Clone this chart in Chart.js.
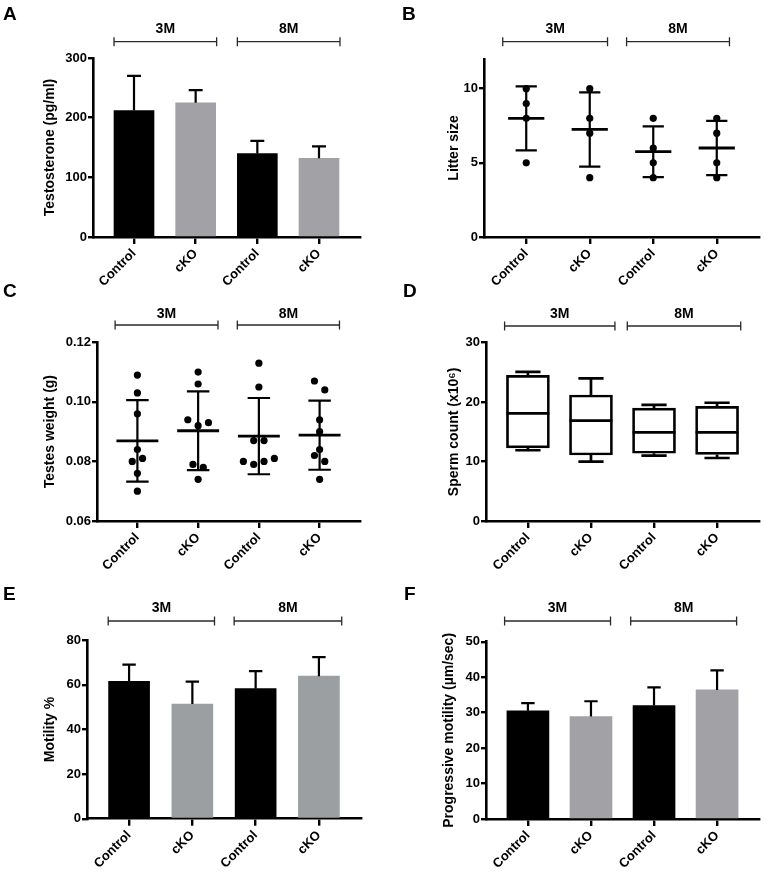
<!DOCTYPE html>
<html>
<head>
<meta charset="utf-8">
<script src="https://cdn.jsdelivr.net/npm/chart.js@4"></script>
<style>
html, body { margin: 0; padding: 0; background: #fff; }
body { width: 764px; height: 874px; position: relative; overflow: hidden; }
canvas { position: absolute; }
</style>
</head>
<body>
<script>
// ---------------- DATA ----------------
const groupLabels = ['Control', 'cKO', 'Control', 'cKO'];
const ageLabels = ['3M', '8M'];

// A: Testosterone (mean, upper error)
const testosteroneMean = [212, 225, 140, 132];
const testosteroneErr = [58, 21, 21, 20];
const testosteroneTicks = [0, 100, 200, 300];

// B: Litter size (individual points, mean, SD)
const litterPoints = [[10, 9, 8, 5], [10, 8, 7, 4], [8, 6, 5, 4], [8, 7, 5, 4]];
const litterMean = [8.0, 7.25, 5.75, 6.0];
const litterSD = [2.16, 2.5, 1.71, 1.83];
const litterTicks = [0, 5, 10];

// C: Testes weight (individual points, mean, SD)
const testesPoints = [
  [0.109, 0.103, 0.096, 0.084, 0.080, 0.081, 0.076, 0.070],
  [0.110, 0.106, 0.094, 0.092, 0.093, 0.079, 0.078, 0.074],
  [0.113, 0.105, 0.087, 0.087, 0.080, 0.079, 0.080, 0.081],
  [0.107, 0.104, 0.094, 0.090, 0.084, 0.082, 0.080, 0.074]
];
const testesJitter = [
  [0, 0, 0, 0, -1, 1, 0, 0],
  [0, 0, -2, 0, 2, -1, 1, 0],
  [0, 0, -1, 1, -3, -1, 1, 3],
  [-1, 1, 0, 0, 0, -1, 1, 0]
];
const testesMean = [0.0869, 0.0903, 0.0885, 0.0888];
const testesSD = [0.0137, 0.0132, 0.0128, 0.0116];
const testesTicks = [0.06, 0.08, 0.10, 0.12];

// D: Sperm count box plot (min, Q1, median, Q3, max)
const spermMin = [11.9, 10.0, 11.0, 10.6];
const spermQ1 = [12.3, 11.1, 11.4, 11.2];
const spermMedian = [18.1, 16.9, 14.9, 14.9];
const spermQ3 = [24.5, 21.2, 19.0, 19.3];
const spermMax = [25.1, 24.0, 19.55, 19.9];
const spermTicks = [0, 10, 20, 30];

// E: Motility %
const motilityMean = [61.6, 51.4, 58.3, 63.9];
const motilityErr = [7.5, 10.1, 7.9, 8.6];
const motilityTicks = [0, 20, 40, 60, 80];

// F: Progressive motility
const progressiveMean = [30.5, 28.9, 32.0, 36.4];
const progressiveErr = [2.2, 4.3, 5.1, 5.5];
const progressiveTicks = [0, 10, 20, 30, 40, 50];

// ---------------- STYLE / LAYOUT ----------------
const FONT = '"Liberation Sans", Arial, Helvetica, sans-serif';
const BLACK = '#000000';
const GRAY = '#a2a2a6';
const GRAY_E = '#9c9fa1';
const X_MIN = -0.665, X_MAX = 3.665;
const JITTER_STEP = 0.085;

function errorBars(means, errs, capHalf) {
  return chart => {
    const ctx = chart.ctx, xs = chart.scales.x, ys = chart.scales.y;
    ctx.save();
    ctx.strokeStyle = '#000'; ctx.lineWidth = 2.2; ctx.lineCap = 'butt';
    means.forEach((m, i) => {
      const x = xs.getPixelForValue(i);
      const y0 = ys.getPixelForValue(m), y1 = ys.getPixelForValue(m + errs[i]);
      const cw = xs.getPixelForValue(i + capHalf) - x;
      ctx.beginPath();
      ctx.moveTo(x, y0); ctx.lineTo(x, y1);
      ctx.moveTo(x - cw, y1); ctx.lineTo(x + cw, y1);
      ctx.stroke();
    });
    ctx.restore();
  };
}

function meanSD(means, sds, meanHalf, capHalf) {
  return chart => {
    const ctx = chart.ctx, xs = chart.scales.x, ys = chart.scales.y;
    ctx.save();
    ctx.strokeStyle = '#000';
    means.forEach((m, i) => {
      const x = xs.getPixelForValue(i);
      const ym = ys.getPixelForValue(m);
      const yt = ys.getPixelForValue(m + sds[i]), yb = ys.getPixelForValue(m - sds[i]);
      const mw = xs.getPixelForValue(i + meanHalf) - x;
      const cw = xs.getPixelForValue(i + capHalf) - x;
      ctx.lineWidth = 2.2;
      ctx.beginPath();
      ctx.moveTo(x, yt); ctx.lineTo(x, yb);
      ctx.moveTo(x - cw, yt); ctx.lineTo(x + cw, yt);
      ctx.moveTo(x - cw, yb); ctx.lineTo(x + cw, yb);
      ctx.stroke();
      ctx.lineWidth = 2.8;
      ctx.beginPath();
      ctx.moveTo(x - mw, ym); ctx.lineTo(x + mw, ym);
      ctx.stroke();
    });
    ctx.restore();
  };
}

function boxWhiskers(chart) {
  const ctx = chart.ctx, xs = chart.scales.x, ys = chart.scales.y;
  ctx.save();
  ctx.strokeStyle = '#000'; ctx.lineWidth = 2.7;
  spermMedian.forEach((med, i) => {
    const x = xs.getPixelForValue(i);
    const cw = xs.getPixelForValue(i + 0.2) - x;
    const bw = xs.getPixelForValue(i + 0.34) - x;
    const yMax = ys.getPixelForValue(spermMax[i]), yQ3 = ys.getPixelForValue(spermQ3[i]);
    const yMin = ys.getPixelForValue(spermMin[i]), yQ1 = ys.getPixelForValue(spermQ1[i]);
    const yMed = ys.getPixelForValue(med);
    ctx.beginPath();
    ctx.moveTo(x, yQ3); ctx.lineTo(x, yMax);
    ctx.moveTo(x - cw, yMax); ctx.lineTo(x + cw, yMax);
    ctx.moveTo(x, yQ1); ctx.lineTo(x, yMin);
    ctx.moveTo(x - cw, yMin); ctx.lineTo(x + cw, yMin);
    ctx.moveTo(x - bw, yMed); ctx.lineTo(x + bw, yMed);
    ctx.stroke();
  });
  ctx.restore();
}

function decoPlugin(spec) {
  return {
    id: 'deco' + spec.letter,
    afterDatasetsDraw(chart) { if (spec.extras) spec.extras(chart); },
    afterDraw(chart) {
      const ctx = chart.ctx, xs = chart.scales.x;
      ctx.save();
      ctx.fillStyle = '#000';
      ctx.font = 'bold 19px ' + FONT;
      ctx.textAlign = 'left'; ctx.textBaseline = 'alphabetic';
      ctx.fillText(spec.letter, spec.letterX - spec.cx, spec.letterY - spec.cy);
      ctx.strokeStyle = '#2a2a2a'; ctx.lineWidth = 1.3;
      ctx.font = 'bold 14px ' + FONT; ctx.textAlign = 'center';
      const by = spec.bracketY - spec.cy;
      spec.brackets.forEach((b, k) => {
        const x1 = xs.getPixelForValue(b[0]), x2 = xs.getPixelForValue(b[1]);
        ctx.beginPath();
        ctx.moveTo(x1, by); ctx.lineTo(x2, by);
        ctx.moveTo(x1, by - 4.5); ctx.lineTo(x1, by + 4.5);
        ctx.moveTo(x2, by - 4.5); ctx.lineTo(x2, by + 4.5);
        ctx.stroke();
        ctx.fillText(ageLabels[k], (x1 + x2) / 2, spec.bracketLabelY - spec.cy);
      });
      ctx.restore();
    }
  };
}

function makePanel(spec) {
  const cv = document.createElement('canvas');
  cv.width = spec.cw; cv.height = spec.ch;
  cv.style.left = spec.cx + 'px'; cv.style.top = spec.cy + 'px';
  cv.style.width = spec.cw + 'px'; cv.style.height = spec.ch + 'px';
  document.body.appendChild(cv);
  const yWidth = spec.left - spec.cx;
  const padRight = spec.cx + spec.cw - spec.right;
  const padTop = spec.top - spec.cy;
  const xHeight = spec.cy + spec.ch - spec.bottom;
  const tickFont = { family: FONT, size: 13, weight: 'bold' };
  new Chart(cv, {
    type: spec.type,
    data: { datasets: spec.datasets },
    options: {
      responsive: false, animation: false, devicePixelRatio: 1,
      layout: { padding: { left: 0, top: padTop, right: padRight, bottom: 0 }, autoPadding: false },
      plugins: { legend: { display: false }, tooltip: { enabled: false } },
      scales: {
        x: {
          type: 'linear', min: X_MIN, max: X_MAX, offset: false,
          afterBuildTicks: s => { s.ticks = [0, 1, 2, 3].map(v => ({ value: v })); },
          afterFit: s => { s.height = xHeight; },
          ticks: {
            callback: v => groupLabels[Math.round(v)],
            minRotation: 45, maxRotation: 45, autoSkip: false,
            color: '#000', font: tickFont, padding: 2
          },
          grid: { offset: false, drawOnChartArea: false, drawTicks: true, tickLength: 7, color: '#000', lineWidth: 2.4 },
          border: { display: true, color: '#000', width: 2.6 }
        },
        y: {
          type: 'linear', min: spec.ymin, max: spec.ymax,
          afterBuildTicks: s => { s.ticks = spec.ticks.map(v => ({ value: v })); },
          afterFit: s => { s.width = yWidth; },
          ticks: { callback: spec.fmt, color: '#000', font: tickFont, padding: 1 },
          grid: { drawOnChartArea: false, drawTicks: true, tickLength: 5, color: '#000', lineWidth: 2.4 },
          border: { display: true, color: '#000', width: 2.6 },
          title: {
            display: true, text: spec.title, color: '#000',
            font: { family: FONT, size: 14, weight: 'bold' },
            padding: { top: spec.titleX - spec.cx - 8.4, bottom: 0 }
          }
        }
      }
    },
    plugins: [decoPlugin(spec)]
  });
}

const intFmt = v => String(v);
const barColors = [BLACK, GRAY, BLACK, GRAY];

// A
makePanel({
  letter: 'A', cx: 0, cy: 0, cw: 382, ch: 295,
  left: 93, right: 360, top: 58, bottom: 237, titleX: 50,
  letterX: 3, letterY: 20, bracketY: 41.7, bracketLabelY: 32.7,
  brackets: [[-0.324, 1.34], [1.676, 3.34]],
  type: 'bar', ymin: 0, ymax: 300, ticks: testosteroneTicks, fmt: intFmt,
  title: 'Testosterone (pg/ml)',
  datasets: [{
    type: 'bar', data: testosteroneMean.map((v, i) => ({ x: i, y: v })),
    backgroundColor: barColors, borderWidth: 0, barThickness: 40
  }],
  extras: errorBars(testosteroneMean, testosteroneErr, 0.113)
});

// B
makePanel({
  letter: 'B', cx: 382, cy: 0, cw: 382, ch: 295,
  left: 484, right: 759, top: 59, bottom: 237, titleX: 453.7,
  letterX: 402, letterY: 20, bracketY: 41.7, bracketLabelY: 32.7,
  brackets: [[-0.37, 1.28], [1.58, 3.2]],
  type: 'scatter', ymin: 0, ymax: 12, ticks: litterTicks, fmt: intFmt,
  title: 'Litter size',
  datasets: [{
    type: 'scatter',
    data: litterPoints.flatMap((arr, i) => arr.map(v => ({ x: i, y: v }))),
    backgroundColor: '#000', borderWidth: 0, pointRadius: 3.6
  }],
  extras: meanSD(litterMean, litterSD, 0.285, 0.167)
});

// C
makePanel({
  letter: 'C', cx: 0, cy: 275, cw: 382, ch: 305,
  left: 97, right: 360, top: 342.3, bottom: 521, titleX: 50,
  letterX: 3, letterY: 297, bracketY: 325, bracketLabelY: 318.3,
  brackets: [[-0.367, 1.327], [1.645, 3.327]],
  type: 'scatter', ymin: 0.06, ymax: 0.12, ticks: testesTicks, fmt: v => v.toFixed(2),
  title: 'Testes weight (g)',
  datasets: [{
    type: 'scatter',
    data: testesPoints.flatMap((arr, i) => arr.map((v, j) => ({ x: i + testesJitter[i][j] * JITTER_STEP, y: v }))),
    backgroundColor: '#000', borderWidth: 0, pointRadius: 3.6
  }],
  extras: meanSD(testesMean, testesSD, 0.345, 0.185)
});

// D
makePanel({
  letter: 'D', cx: 382, cy: 275, cw: 382, ch: 305,
  left: 486, right: 759, top: 342.7, bottom: 521, titleX: 453.7,
  letterX: 403, letterY: 297, bracketY: 326, bracketLabelY: 318,
  brackets: [[-0.37, 1.38], [1.576, 3.375]],
  type: 'bar', ymin: 0, ymax: 30, ticks: spermTicks, fmt: intFmt,
  title: 'Sperm count (x10\u2076)',
  datasets: [{
    type: 'bar',
    data: spermQ1.map((q, i) => ({ x: i, y: [q, spermQ3[i]] })),
    backgroundColor: '#fff', borderColor: '#000', borderWidth: 2.7,
    borderSkipped: false, barThickness: 43
  }],
  extras: boxWhiskers
});

// E
makePanel({
  letter: 'E', cx: 0, cy: 565, cw: 382, ch: 309,
  left: 87, right: 361, top: 640.3, bottom: 818.7, titleX: 50,
  letterX: 3, letterY: 600, bracketY: 621, bracketLabelY: 611.7,
  brackets: [[-0.33, 1.35], [1.66, 3.36]],
  type: 'bar', ymin: 0, ymax: 80, ticks: motilityTicks, fmt: intFmt,
  title: 'Motility %',
  datasets: [{
    type: 'bar', data: motilityMean.map((v, i) => ({ x: i, y: v })),
    backgroundColor: [BLACK, GRAY_E, BLACK, GRAY_E], borderWidth: 0, barThickness: 41
  }],
  extras: errorBars(motilityMean, motilityErr, 0.106)
});

// F
makePanel({
  letter: 'F', cx: 382, cy: 565, cw: 382, ch: 309,
  left: 486, right: 759, top: 641.7, bottom: 819, titleX: 448.7,
  letterX: 404, letterY: 600, bracketY: 621, bracketLabelY: 611.7,
  brackets: [[-0.37, 1.31], [1.63, 3.31]],
  type: 'bar', ymin: 0, ymax: 50, ticks: progressiveTicks, fmt: intFmt,
  title: 'Progressive motility (\u00b5m/sec)',
  datasets: [{
    type: 'bar', data: progressiveMean.map((v, i) => ({ x: i, y: v })),
    backgroundColor: barColors, borderWidth: 0, barThickness: 42
  }],
  extras: errorBars(progressiveMean, progressiveErr, 0.106)
});
</script>
</body>
</html>
